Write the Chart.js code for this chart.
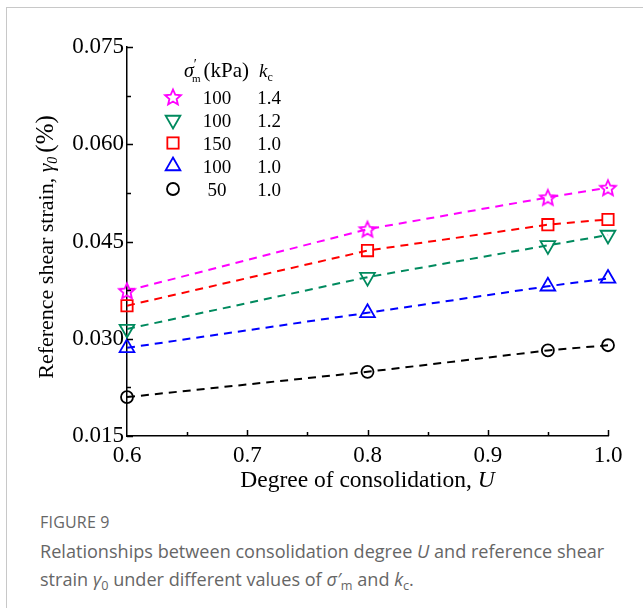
<!DOCTYPE html>
<html>
<head>
<meta charset="utf-8">
<script src="https://cdn.jsdelivr.net/npm/chart.js@4"></script>
<style>
    body { margin: 0; background: #fff; width: 643px; height: 608px; overflow: hidden; position: relative; }
    #frame { position: absolute; left: 6px; top: 7px; right: 0; bottom: 0; border-top: 1.5px solid #c8c8c8; border-left: 1.5px solid #c8c8c8; }
    #chartBox { position: absolute; left: 0; top: 0; width: 643px; height: 500px; }
    #caption { position: absolute; left: 40px; top: 511px; right: 20px; font-family: "Open Sans", "Noto Sans", sans-serif; color: #666; }
    #caption .fig { font-size: 16px; letter-spacing: 0.2px; margin-bottom: 4px; }
    #caption .txt { font-size: 18.1px; line-height: 28px; }
    sub { font-size: 70%; vertical-align: -0.3em; line-height: 0; }
</style>
</head>
<body>
<div id="frame"></div>
<div id="chartBox"><canvas id="chart" width="643" height="500"></canvas></div>
<div id="caption">
    <div class="fig">FIGURE 9</div>
    <div class="txt">Relationships between consolidation degree <i>U</i> and reference shear strain <i>γ</i><sub>0</sub> under different values of <i>σ′</i><sub>m</sub> and <i>k</i><sub>c</sub>.</div>
</div>
<script>
// Degree of consolidation U
const uValues = [0.6, 0.8, 0.95, 1.0];

// reference shear strain (%) per test series
const s100k14 = [0.0374, 0.0469, 0.0518, 0.0533];
const s100k12 = [0.0315, 0.0395, 0.0444, 0.0460];
const s150k10 = [0.0351, 0.0436, 0.0476, 0.0484];
const s100k10 = [0.0286, 0.0340, 0.0381, 0.0393];
const s50k10  = [0.0210, 0.0249, 0.0282, 0.0290];

// legend table
const sigmaLabels = ["100", "100", "150", "100", "50"];
const kcLabels = ["1.4", "1.2", "1.0", "1.0", "1.0"];

const yTicks = [0.015, 0.030, 0.045, 0.060, 0.075];
const xTicks = [0.6, 0.7, 0.8, 0.9, 1.0];

const SERIF = '"Liberation Serif", "DejaVu Serif", serif';

// 5-point star marker as an image
function makeStar(color) {
    const c = document.createElement("canvas");
    c.width = 22; c.height = 22;
    const g = c.getContext("2d");
    g.strokeStyle = color;
    g.lineWidth = 1.8;
    g.beginPath();
    for (let i = 0; i < 10; i++) {
        const r = i % 2 === 0 ? 8.3 : 3.8;
        const a = -Math.PI / 2 + i * Math.PI / 5;
        const px = 11 + r * Math.cos(a), py = 11.8 + r * Math.sin(a);
        if (i === 0) g.moveTo(px, py); else g.lineTo(px, py);
    }
    g.closePath();
    g.stroke();
    return c;
}
const starImg = makeStar("#ff00ff");

function series(vals, color, style, radius, rotation) {
    return {
        data: uValues.map((u, i) => ({ x: u, y: vals[i] })),
        borderColor: color,
        backgroundColor: "rgba(0,0,0,0)",
        pointBorderColor: color,
        pointBackgroundColor: "rgba(0,0,0,0)",
        pointStyle: style,
        pointRadius: radius,
        pointRotation: rotation || 0,
        pointBorderWidth: 1.8,
        borderWidth: 2,
        borderDash: [8, 6],
        tension: 0,
        fill: false,
        clip: false
    };
}

const datasets = [
    series(s100k14, "#ff00ff", starImg, 9),
    series(s100k12, "#008a5e", "triangle", 8.5, 180),
    series(s150k10, "#ff0000", "rect", 8),
    series(s100k10, "#0000ff", "triangle", 8.5),
    series(s50k10,  "#000000", "circle", 6)
];

function drawMarker(ctx, ds, x, y) {
    ctx.save();
    ctx.strokeStyle = ds.pointBorderColor;
    ctx.lineWidth = ds.pointBorderWidth;
    const r = ds.pointRadius;
    if (ds.pointStyle instanceof HTMLCanvasElement) {
        ctx.drawImage(ds.pointStyle, x - 11, y - 11);
    } else if (ds.pointStyle === "circle") {
        ctx.beginPath(); ctx.arc(x, y, r, 0, Math.PI * 2); ctx.stroke();
    } else if (ds.pointStyle === "rect") {
        const s = r * Math.SQRT1_2;
        ctx.strokeRect(x - s, y - s, 2 * s, 2 * s);
    } else if (ds.pointStyle === "triangle") {
        const dir = ds.pointRotation === 180 ? -1 : 1;
        ctx.beginPath();
        ctx.moveTo(x, y - dir * r);
        ctx.lineTo(x + r * Math.sin(Math.PI / 3), y + dir * r / 2);
        ctx.lineTo(x - r * Math.sin(Math.PI / 3), y + dir * r / 2);
        ctx.closePath(); ctx.stroke();
    }
    ctx.restore();
}

// draw a run of text pieces, each with its own font and vertical shift
function drawRich(ctx, parts, x, y, align) {
    let total = 0;
    parts.forEach(p => { ctx.font = p.font; total += ctx.measureText(p.t).width + (p.gap || 0); });
    let cx = align === "center" ? x - total / 2 : x;
    ctx.textAlign = "left";
    parts.forEach(p => {
        ctx.font = p.font;
        ctx.fillText(p.t, cx, y + (p.dy || 0));
        cx += ctx.measureText(p.t).width + (p.gap || 0);
    });
}

const decorPlugin = {
    id: "decor",
    afterDraw(chart) {
        const ctx = chart.ctx;
        const xs = chart.scales.x, ys = chart.scales.y;
        const left = xs.left, bottom = ys.bottom;
        ctx.save();
        ctx.strokeStyle = "#000";
        ctx.lineWidth = 1.5;
        ctx.beginPath();
        // inward ticks, y axis
        for (let v = 0.015; v <= 0.0751; v += 0.0075) {
            const py = Math.round(ys.getPixelForValue(v)) + 0.5;
            const major = Math.abs((v / 0.015) - Math.round(v / 0.015)) < 1e-6;
            ctx.moveTo(left, py);
            ctx.lineTo(left + (major ? 6 : 4), py);
        }
        // inward ticks, x axis
        for (let v = 0.65; v <= 1.0001; v += 0.05) {
            const px = Math.round(xs.getPixelForValue(v)) + 0.5;
            const major = Math.abs(v * 10 - Math.round(v * 10)) < 1e-6;
            ctx.moveTo(px, bottom);
            ctx.lineTo(px, bottom - (major ? 6 : 4));
        }
        ctx.stroke();

        ctx.fillStyle = "#000";
        ctx.textBaseline = "alphabetic";

        // x title
        drawRich(ctx, [
            { t: "Degree of consolidation, ", font: "23.5px " + SERIF },
            { t: "U", font: "italic 23.5px " + SERIF }
        ], (xs.left + xs.right) / 2, 487, "center");

        // y title, rotated
        ctx.save();
        ctx.translate(53, 247);
        ctx.rotate(-Math.PI / 2);
        drawRich(ctx, [
            { t: "Reference shear strain, ", font: "22px " + SERIF },
            { t: "γ", font: "italic 22px " + SERIF },
            { t: "0", font: "italic 14px " + SERIF, dy: 4, gap: 4 },
            { t: "(%)", font: "25px " + SERIF }
        ], 0, 0, "center");
        ctx.restore();

        // legend header
        drawRich(ctx, [
            { t: "σ", font: "italic 20px " + SERIF },
            { t: "′", font: "14px " + SERIF, dy: -8, gap: -5 },
            { t: "m", font: "11px " + SERIF, dy: 5, gap: 3 },
            { t: "(kPa)", font: "21px " + SERIF, gap: 10 },
            { t: "k", font: "italic 19px " + SERIF },
            { t: "c", font: "12px " + SERIF, dy: 4 }
        ], 184, 77, "left");

        // legend rows
        const rowY = [97, 120, 143, 166, 189];
        chart.data.datasets.forEach((ds, i) => {
            drawMarker(ctx, ds, 173, rowY[i]);
            ctx.font = "19px " + SERIF;
            ctx.textAlign = "center";
            ctx.fillText(sigmaLabels[i], 217, rowY[i] + 7);
            ctx.fillText(kcLabels[i], 269, rowY[i] + 7);
        });
        ctx.restore();
    }
};

new Chart(document.getElementById("chart"), {
    type: "line",
    data: { datasets: datasets },
    options: {
        responsive: false,
        animation: false,
        devicePixelRatio: 1,
        layout: { padding: { top: 47, right: 35, left: 0, bottom: 0 } },
        plugins: { legend: { display: false }, tooltip: { enabled: false } },
        scales: {
            x: {
                type: "linear",
                min: 0.6, max: 1.0,
                afterFit: s => { s.height = 64; },
                afterBuildTicks: s => { s.ticks = xTicks.map(v => ({ value: v })); },
                ticks: {
                    color: "#000",
                    padding: 6,
                    font: { family: SERIF, size: 23 },
                    callback: v => v.toFixed(1)
                },
                grid: { display: false, drawTicks: false },
                border: { display: true, color: "#000", width: 1.5 }
            },
            y: {
                min: 0.015, max: 0.075,
                afterFit: s => { s.width = 127; },
                afterBuildTicks: s => { s.ticks = yTicks.map(v => ({ value: v })); },
                ticks: {
                    color: "#000",
                    padding: 3,
                    font: { family: SERIF, size: 23 },
                    callback: v => v.toFixed(3)
                },
                grid: { display: false, drawTicks: false },
                border: { display: true, color: "#000", width: 1.5 }
            }
        }
    },
    plugins: [decorPlugin]
});
</script>
</body>
</html>
